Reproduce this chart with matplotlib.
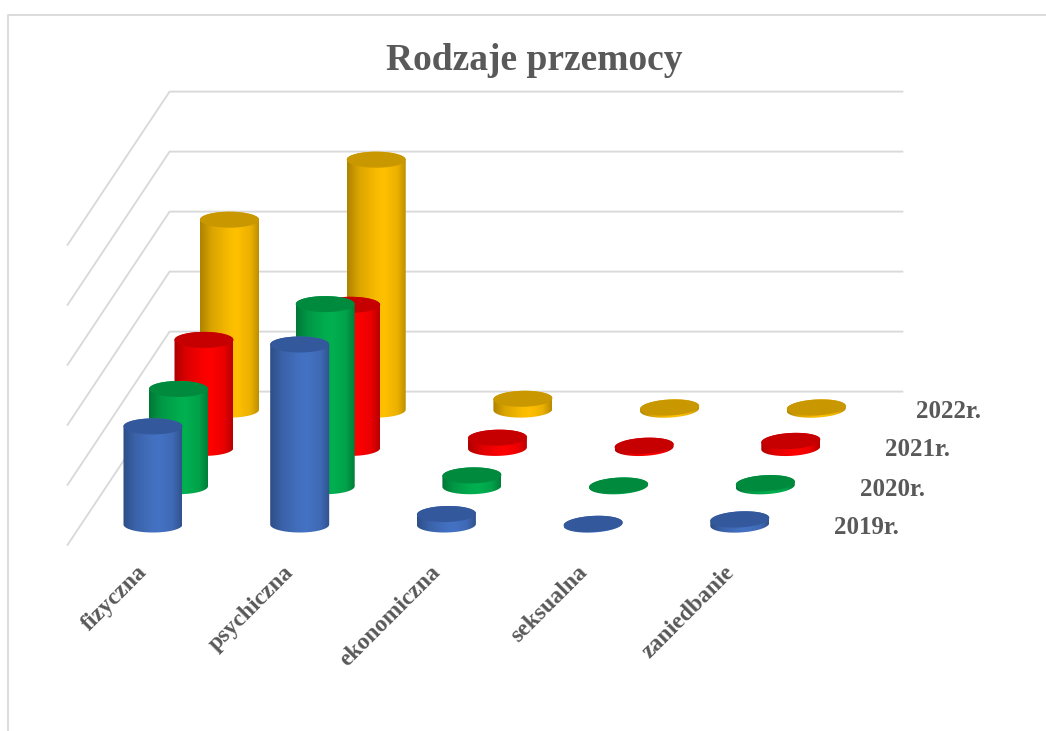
import numpy as np
import matplotlib
matplotlib.use("Agg")
import matplotlib.pyplot as plt
from matplotlib.colors import to_rgb
from matplotlib.patches import Polygon

title = "Rodzaje przemocy"
categories = ["fizyczna", "psychiczna", "ekonomiczna", "seksualna", "zaniedbanie"]
series_names = ["2019r.", "2020r.", "2021r.", "2022r."]
v2019 = [32.7, 60, 3.5, 0.2, 1.7]
v2020 = [32.4, 60.7, 3.6, 0.2, 1.0]
v2021 = [36, 47.7, 3.4, 0.7, 2.3]
v2022 = [63.3, 83.3, 3.6, 0.7, 0.7]
series_values = [v2019, v2020, v2021, v2022]
grid_values = [0, 20, 40, 60, 80, 100]

body_colors = ["#4472c4", "#00b050", "#ff0000", "#ffc000"]
top_colors = ["#33589c", "#008a3e", "#c60000", "#c99800"]
TEXT = "#595959"
GRID = "#d9d9d9"
SERIF = "Liberation Serif"

W, H = 1046, 731
PX_PER_CAT = 146.7
PX_PER_VAL = 3.0
X0, Y0 = 153.0, 524.5
DX, DY = 25.5, 38.3
RX, RY = 29.5, 8.0

fig = plt.figure(figsize=(W / 100, H / 100), dpi=100, facecolor="white")
ax = fig.add_axes([0, 0, 1, 1])
ax.set_xlim((0 - X0) / PX_PER_CAT, (W - X0) / PX_PER_CAT)
ax.set_ylim((Y0 - H) / PX_PER_VAL, Y0 / PX_PER_VAL)
ax.axis("off")
xlim, ylim = ax.get_xlim(), ax.get_ylim()

sx = DX / PX_PER_CAT
sy = DY / PX_PER_VAL
rx = RX / PX_PER_CAT
ry = RY / PX_PER_VAL


def proj(c, s, v):
    return c + s * sx, v + s * sy


def px(x, y):
    return (x - X0) / PX_PER_CAT, (Y0 - y) / PX_PER_VAL


# frame
bx0, by0 = px(8.5, 14.5)
bx1, by1 = px(W + 10, H + 10)
ax.plot([bx0, bx0, bx1], [by1, by0, by0], color=GRID, lw=1.3, zorder=1)

# walls
c_left, c_right = -0.49, 4.505
s_front, s_back = -0.53, 3.47
for g in grid_values:
    a = proj(c_left, s_front, g)
    b = proj(c_left, s_back, g)
    e = proj(c_right, s_back, g)
    ax.plot([a[0], b[0], e[0]], [a[1], b[1], e[1]], color=GRID, lw=1.35,
            solid_joinstyle="miter", zorder=1)

pos = [0, 0.2, 0.5, 0.62, 0.85, 1]
lev = [0.68, 0.86, 0.98, 1.0, 0.92, 0.72]


def gradient(col):
    rgb = np.array(to_rgb(col))
    t = np.linspace(0, 1, 120)
    k = np.interp(t, pos, lev)
    return (k[:, None] * rgb)[None, :, :]


tilts = [0.0, 0.0, 0.6, 1.5, 1.5]  # shear of the ellipses along x
ts = np.linspace(0, np.pi, 60)
z = 10
for si in range(3, -1, -1):
    for ci in range(len(categories)):
        v = series_values[si][ci]
        cx, by = proj(ci, si, 0)
        _, ty = proj(ci, si, v)
        tilt = tilts[ci] / PX_PER_VAL
        lower_x = cx - rx * np.cos(ts)
        lower_y = by - ry * np.sin(ts) - tilt * np.cos(ts)
        upper_x = cx + rx * np.cos(ts)
        upper_y = ty + ry * np.sin(ts) + tilt * np.cos(ts)
        body = Polygon(np.column_stack([np.r_[lower_x, upper_x], np.r_[lower_y, upper_y]]),
                       closed=True, fc="none", ec="none", transform=ax.transData)
        ax.add_patch(body)
        im = ax.imshow(gradient(body_colors[si]),
                       extent=[cx - rx, cx + rx, by - ry - 2, ty + ry + 2],
                       aspect="auto", zorder=z, interpolation="bilinear")
        im.set_clip_path(body)
        tt = np.linspace(0, 2 * np.pi, 120)
        ax.fill(cx + rx * np.cos(tt), ty + ry * np.sin(tt) + tilt * np.cos(tt),
                color=top_colors[si], lw=0, zorder=z + 1)
        z += 2

# labels
for ci, name in enumerate(categories):
    x, y = px(144 + PX_PER_CAT * ci, 569)
    ax.text(x, y, name, rotation=45, rotation_mode="anchor", ha="right", va="center",
            family=SERIF, weight="bold", fontsize=17, color=TEXT, zorder=100)

offs = [834, 860, 885, 916]
ys = [527, 489, 450, 412]
for si, name in enumerate(series_names):
    x, y = px(offs[si], ys[si])
    ax.text(x, y, name, ha="left", va="center", family=SERIF, weight="bold",
            fontsize=18, color=TEXT, zorder=100)

x, y = px(534, 61)
ax.text(x, y, title, ha="center", va="center", family=SERIF, weight="bold",
        fontsize=27, color=TEXT, zorder=100)

ax.set_xlim(xlim)
ax.set_ylim(ylim)
fig.savefig("out.png", dpi=100, facecolor="white")
